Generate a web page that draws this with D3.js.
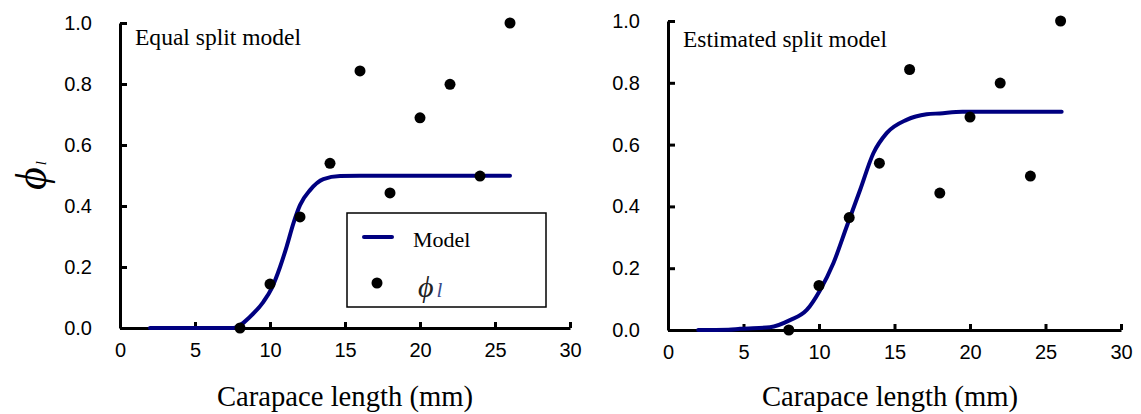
<!DOCTYPE html>
<html>
<head>
<meta charset="utf-8">
<script src="https://cdn.jsdelivr.net/npm/d3@7"></script>
<style>
  body { margin: 0; background: #fff; }
  svg { display: block; }
  .tick text { font-family: "Liberation Sans", Arial, sans-serif; font-size: 20px; fill: #000; }
  .axis path, .axis line { stroke: #000; stroke-width: 3px; }
  .serif { font-family: "Liberation Serif", "Times New Roman", serif; fill: #000; }
</style>
</head>
<body>
<div id="chart"></div>
<script>
// observed phi_l (same in both panels)
var lengths = [8, 10, 12, 14, 16, 18, 20, 22, 24, 26];
var phiObs = [0.0, 0.144, 0.364, 0.54, 0.843, 0.443, 0.689, 0.799, 0.498, 1.0];

// model curves
var equalX = [2, 4, 6, 7, 7.56, 8.67, 9.56, 10.11, 10.67, 11.11, 11.56, 12.0, 12.67, 13.56, 14.67, 16, 20, 26];
var equalY = [0, 0, 0, 0, 0, 0.037, 0.086, 0.13, 0.20, 0.267, 0.343, 0.403, 0.452, 0.488, 0.498, 0.499, 0.499, 0.499];

var estX = [2, 4, 4.77, 6.75, 8.08, 9.19, 10.07, 10.95, 11.83, 12.72, 13.6, 14.48, 15.8, 17.13, 18.0, 19.5, 26.07];
var estY = [0, 0.001, 0.004, 0.009, 0.032, 0.065, 0.129, 0.216, 0.334, 0.453, 0.572, 0.637, 0.68, 0.698, 0.701, 0.706, 0.706];

var xTicks = [0, 5, 10, 15, 20, 25, 30];
var yTicks = [0, 0.2, 0.4, 0.6, 0.8, 1.0];

var svg = d3.select("#chart").append("svg")
    .attr("width", 1141)
    .attr("height", 414);

function panel(opt) {
    var x = d3.scaleLinear().domain([0, 30]).range(opt.xr);
    var y = d3.scaleLinear().domain([0, 1]).range(opt.yr);

    var ax = svg.append("g")
        .attr("class", "axis")
        .attr("transform", "translate(0," + opt.yr[0] + ")")
        .call(d3.axisBottom(x).tickValues(xTicks).tickSizeInner(-6).tickSizeOuter(0).tickPadding(15));
    ax.selectAll(".tick text").attr("dy", "0.71em");

    svg.append("g")
        .attr("class", "axis")
        .attr("transform", "translate(" + opt.xr[0] + ",0)")
        .call(d3.axisLeft(y).tickValues(yTicks).tickFormat(d3.format(".1f"))
            .tickSizeInner(-7).tickSizeOuter(0).tickPadding(28));

    var line = d3.line()
        .x(function(d) { return x(d[0]); })
        .y(function(d) { return y(d[1]); })
        .curve(d3.curveMonotoneX);

    svg.append("path")
        .datum(d3.zip(opt.cx, opt.cy))
        .attr("d", line)
        .attr("fill", "none")
        .attr("stroke", "#000080")
        .attr("stroke-width", 4)
        .attr("stroke-linecap", "round");

    svg.append("g").selectAll("circle")
        .data(d3.zip(lengths, phiObs))
        .enter().append("circle")
        .attr("cx", function(d) { return x(d[0]); })
        .attr("cy", function(d) { return y(d[1]); })
        .attr("r", 5.5)
        .attr("fill", "#000");

    svg.append("text")
        .attr("class", "serif")
        .attr("x", opt.tx)
        .attr("y", opt.ty)
        .attr("font-size", 23)
        .attr("textLength", opt.tw)
        .attr("lengthAdjust", "spacingAndGlyphs")
        .text(opt.title);

    svg.append("text")
        .attr("class", "serif")
        .attr("x", opt.lx)
        .attr("y", 406)
        .attr("font-size", 29)
        .attr("textLength", 256)
        .attr("lengthAdjust", "spacingAndGlyphs")
        .text("Carapace length (mm)");
}

panel({ xr: [120, 570], yr: [328, 23], cx: equalX, cy: equalY,
        title: "Equal split model", tx: 135, ty: 45, tw: 166, lx: 217 });
panel({ xr: [668, 1121], yr: [330, 21], cx: estX, cy: estY,
        title: "Estimated split model", tx: 683, ty: 47, tw: 204, lx: 762 });

// y axis label
var yl = svg.append("text")
    .attr("class", "serif")
    .attr("transform", "translate(46,190) rotate(-90)")
    .attr("font-style", "italic");
yl.append("tspan").attr("font-size", 44).text("\u03d5");
yl.append("tspan").attr("font-size", 15).attr("dx", 2).text("l");

// legend
var lg = svg.append("g");
lg.append("rect")
    .attr("x", 347).attr("y", 213).attr("width", 199).attr("height", 94)
    .attr("fill", "#fff").attr("stroke", "#000").attr("stroke-width", 1.5);
lg.append("line")
    .attr("x1", 364).attr("x2", 392).attr("y1", 237).attr("y2", 237)
    .attr("stroke", "#000080").attr("stroke-width", 4).attr("stroke-linecap", "round");
lg.append("text").attr("class", "serif")
    .attr("x", 413).attr("y", 247).attr("font-size", 22).text("Model");
lg.append("circle").attr("cx", 377).attr("cy", 283).attr("r", 5.5).attr("fill", "#000");
var lt = lg.append("text").attr("class", "serif")
    .attr("x", 418).attr("y", 297).attr("font-style", "italic");
lt.append("tspan").attr("font-size", 30).attr("fill", "#222").text("\u03d5");
lt.append("tspan").attr("font-size", 21).attr("dx", 3).attr("fill", "#3a4a8a").text("l");
</script>
</body>
</html>
